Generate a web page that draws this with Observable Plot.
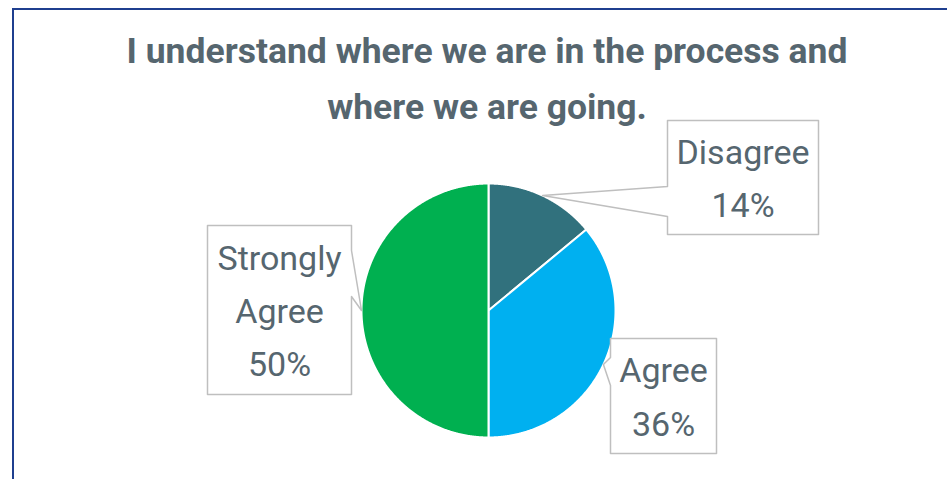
<!DOCTYPE html>
<html>
<head>
<meta charset="utf-8">
<script src="https://cdn.jsdelivr.net/npm/d3@7"></script>
<script src="https://cdn.jsdelivr.net/npm/@observablehq/plot@0.6"></script>
<style>
  html, body { margin: 0; padding: 0; background: #fff; }
  #wrap { position: relative; width: 947px; height: 479px; overflow: hidden; }
  #frame { position: absolute; left: 12px; top: 8px; width: 960px; height: 500px;
           border-left: 2px solid #1F3F8F; border-top: 2px solid #1F3F8F; pointer-events: none; }
</style>
</head>
<body>
<div id="wrap"><div id="frame"></div></div>
<script>
// ---- data ----
const categories = ["Disagree", "Agree", "Strongly Agree"];
const values = [14, 36, 50];
const colors = ["#31717D", "#00B0F0", "#00B050"];
const titleLines = ["I understand where we are in the process and", "where we are going."];

// ---- layout (pixels) ----
const W = 947, H = 479;
const pie = {cx: 488, cy: 310, r: 127};
// callout boxes and wedge attach points along the box edge
const callouts = {
  "Disagree":       {x1: 667, x2: 818, y1: 120, y2: 234, side: "left",  a1: 186, a2: 216},
  "Agree":          {x1: 610, x2: 716, y1: 338, y2: 453, side: "left",  a1: 357, a2: 385},
  "Strongly Agree": {x1: 207, x2: 351, y1: 225, y2: 394, side: "right", a1: 250, a2: 296}
};
const textColor = "#56666F";

// ---- pie geometry ----
const total = d3.sum(values);
const arcs = d3.pie().sort(null).value(d => d)(values);
const slicePts = [];
const tips = [];
arcs.forEach((a, i) => {
  const cat = categories[i];
  slicePts.push({cat, x: pie.cx, y: pie.cy});
  const n = Math.max(2, Math.ceil((a.endAngle - a.startAngle) / 0.005));
  for (let k = 0; k <= n; k++) {
    const t = a.startAngle + (a.endAngle - a.startAngle) * k / n;
    slicePts.push({cat, x: pie.cx + pie.r * Math.sin(t), y: pie.cy - pie.r * Math.cos(t)});
  }
  slicePts.push({cat, x: pie.cx, y: pie.cy});
  const mid = (a.startAngle + a.endAngle) / 2;
  tips.push({cat, x: pie.cx + pie.r * Math.sin(mid), y: pie.cy - pie.r * Math.cos(mid),
             label: (cat === "Strongly Agree" ? "Strongly\nAgree" : cat) + "\n" + Math.round(values[i] / total * 100) + "%"});
});

// callout polygons
const calloutPts = [];
const labelPos = [];
tips.forEach(t => {
  const c = callouts[t.cat];
  let pts;
  if (c.side === "left") {
    pts = [[c.x1, c.y1], [c.x2, c.y1], [c.x2, c.y2], [c.x1, c.y2], [c.x1, c.a2], [t.x, t.y], [c.x1, c.a1], [c.x1, c.y1]];
  } else {
    pts = [[c.x1, c.y1], [c.x2, c.y1], [c.x2, c.a1], [t.x, t.y], [c.x2, c.a2], [c.x2, c.y2], [c.x1, c.y2], [c.x1, c.y1]];
  }
  pts.forEach(p => calloutPts.push({cat: t.cat, x: p[0], y: p[1]}));
  labelPos.push({x: (c.x1 + c.x2) / 2, y: (c.y1 + c.y2) / 2 - 4, label: t.label});
});

const chart = Plot.plot({
  width: W, height: H,
  margin: 0,
  style: {background: "transparent"},
  x: {domain: [0, W], range: [0, W], axis: null},
  y: {domain: [0, H], range: [0, H], axis: null},
  color: {domain: categories, range: colors},
  marks: [
    Plot.text([titleLines.join("\n")], {x: W / 2 + 13, y: 73, text: d => d, fontSize: 35.5, fontWeight: "bold",
      fontFamily: "Roboto", fill: textColor, lineHeight: 1.58, lineAnchor: "middle"}),
    Plot.line(slicePts, {x: "x", y: "y", z: "cat", fill: "cat", stroke: "white", strokeWidth: 2, curve: "linear-closed"}),
    Plot.line(calloutPts, {x: "x", y: "y", z: "cat", fill: "white", stroke: "#BFBFBF", strokeWidth: 1.5, curve: "linear-closed"}),
    Plot.text(labelPos, {x: "x", y: "y", text: "label", fontSize: 34, fontFamily: "Roboto",
      fill: textColor, lineHeight: 1.57, lineAnchor: "middle"})
  ]
});
document.getElementById("wrap").prepend(chart);
</script>
</body>
</html>
